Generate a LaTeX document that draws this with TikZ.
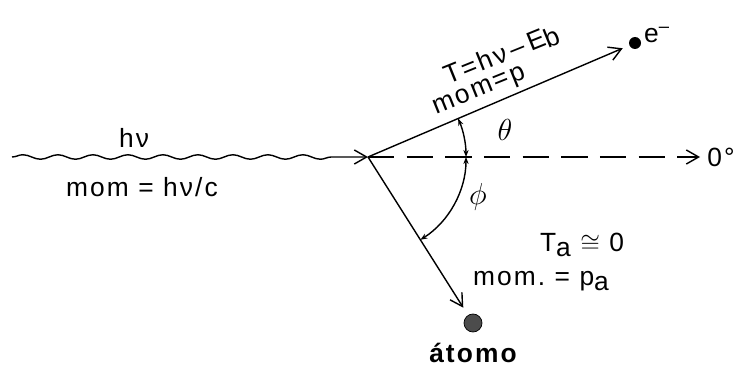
\documentclass[tikz,border=0pt]{standalone}
\usepackage{fontspec}
\setmainfont{Liberation Sans}[LetterSpace=8]
\usetikzlibrary{arrows.meta, decorations.pathmorphing, positioning, calc}

\begin{document}
\begin{tikzpicture}[
    x=0.02cm, y=0.02cm,
    lbl/.style={font=\fontsize{15}{17}\selectfont, inner sep=1pt},
    greek/.style={font=\fontsize{19}{21}\selectfont, inner sep=1pt},
    vec/.style={-{Straight Barb[length=7pt, width=8pt]}, line width=0.8pt},
    ang/.style={{Stealth[length=4pt, width=3pt]}-{Stealth[length=4pt, width=3pt]}, line width=0.8pt}
]
    \useasboundingbox (0,0) rectangle (748,369);
    \coordinate (vertex) at (368,212);
    \coordinate (wavestart) at (12,212);
    \coordinate (zeroref) at (700,212);
    \node [circle, fill=black, inner sep=0pt, minimum size=0.24cm] (electron) at (635,326) {};
    \node [circle, draw, fill=black!70, inner sep=0pt, minimum size=0.36cm] (atom) at (473,46) {};
    % incoming photon
    \draw [vec, decorate, decoration={snake, segment length=0.7cm, amplitude=0.045cm, post length=14pt}] (wavestart) -- (vertex);
    \node [lbl] (photon) at (134,231) {hν};
    \node [lbl] (photonmom) at (142,182) {mom~=~hν/c};
    % reference direction
    \draw [vec, dash pattern=on 15pt off 7pt] (vertex) -- (zeroref);
    \node [lbl, right=3pt of zeroref] (zero) {0°};
    % ejected electron and recoil atom
    \draw [vec, shorten >=4pt] (vertex) -- (electron);
    \node [lbl, rotate=22] (eenergy) at (502,314) {T=hν\,--\,E\raisebox{-2pt}{b}};
    \node [lbl, rotate=22] (emom) at (480,277) {mom=p};
    \node [lbl] (elabel) at (657,334) {e\textsuperscript{--}};
    \draw [vec, shorten >=5pt] (vertex) -- (atom);
    \node [lbl, font=\bfseries\fontsize{15}{17}\selectfont, below=5pt of atom] (atomo) {átomo};
    % angles
    \draw [ang] ($(vertex)+(98,0)$) arc [start angle=0, end angle=23.1, radius=1.96cm];
    \draw [ang] ($(vertex)+(98,0)$) arc [start angle=0, end angle=-57.7, radius=1.96cm];
    \node [greek] (theta) at (505,239) {$\theta$};
    \node [greek] (phi) at (478,172) {$\phi$};
    \node [lbl, anchor=west] (atomT) at (538,124) {T\raisebox{-3pt}{a}~$\cong$~0};
    \node [lbl, anchor=west] (atommom) at (471,88) {mom.~=~p\raisebox{-3pt}{a}};
\end{tikzpicture}
\end{document}
